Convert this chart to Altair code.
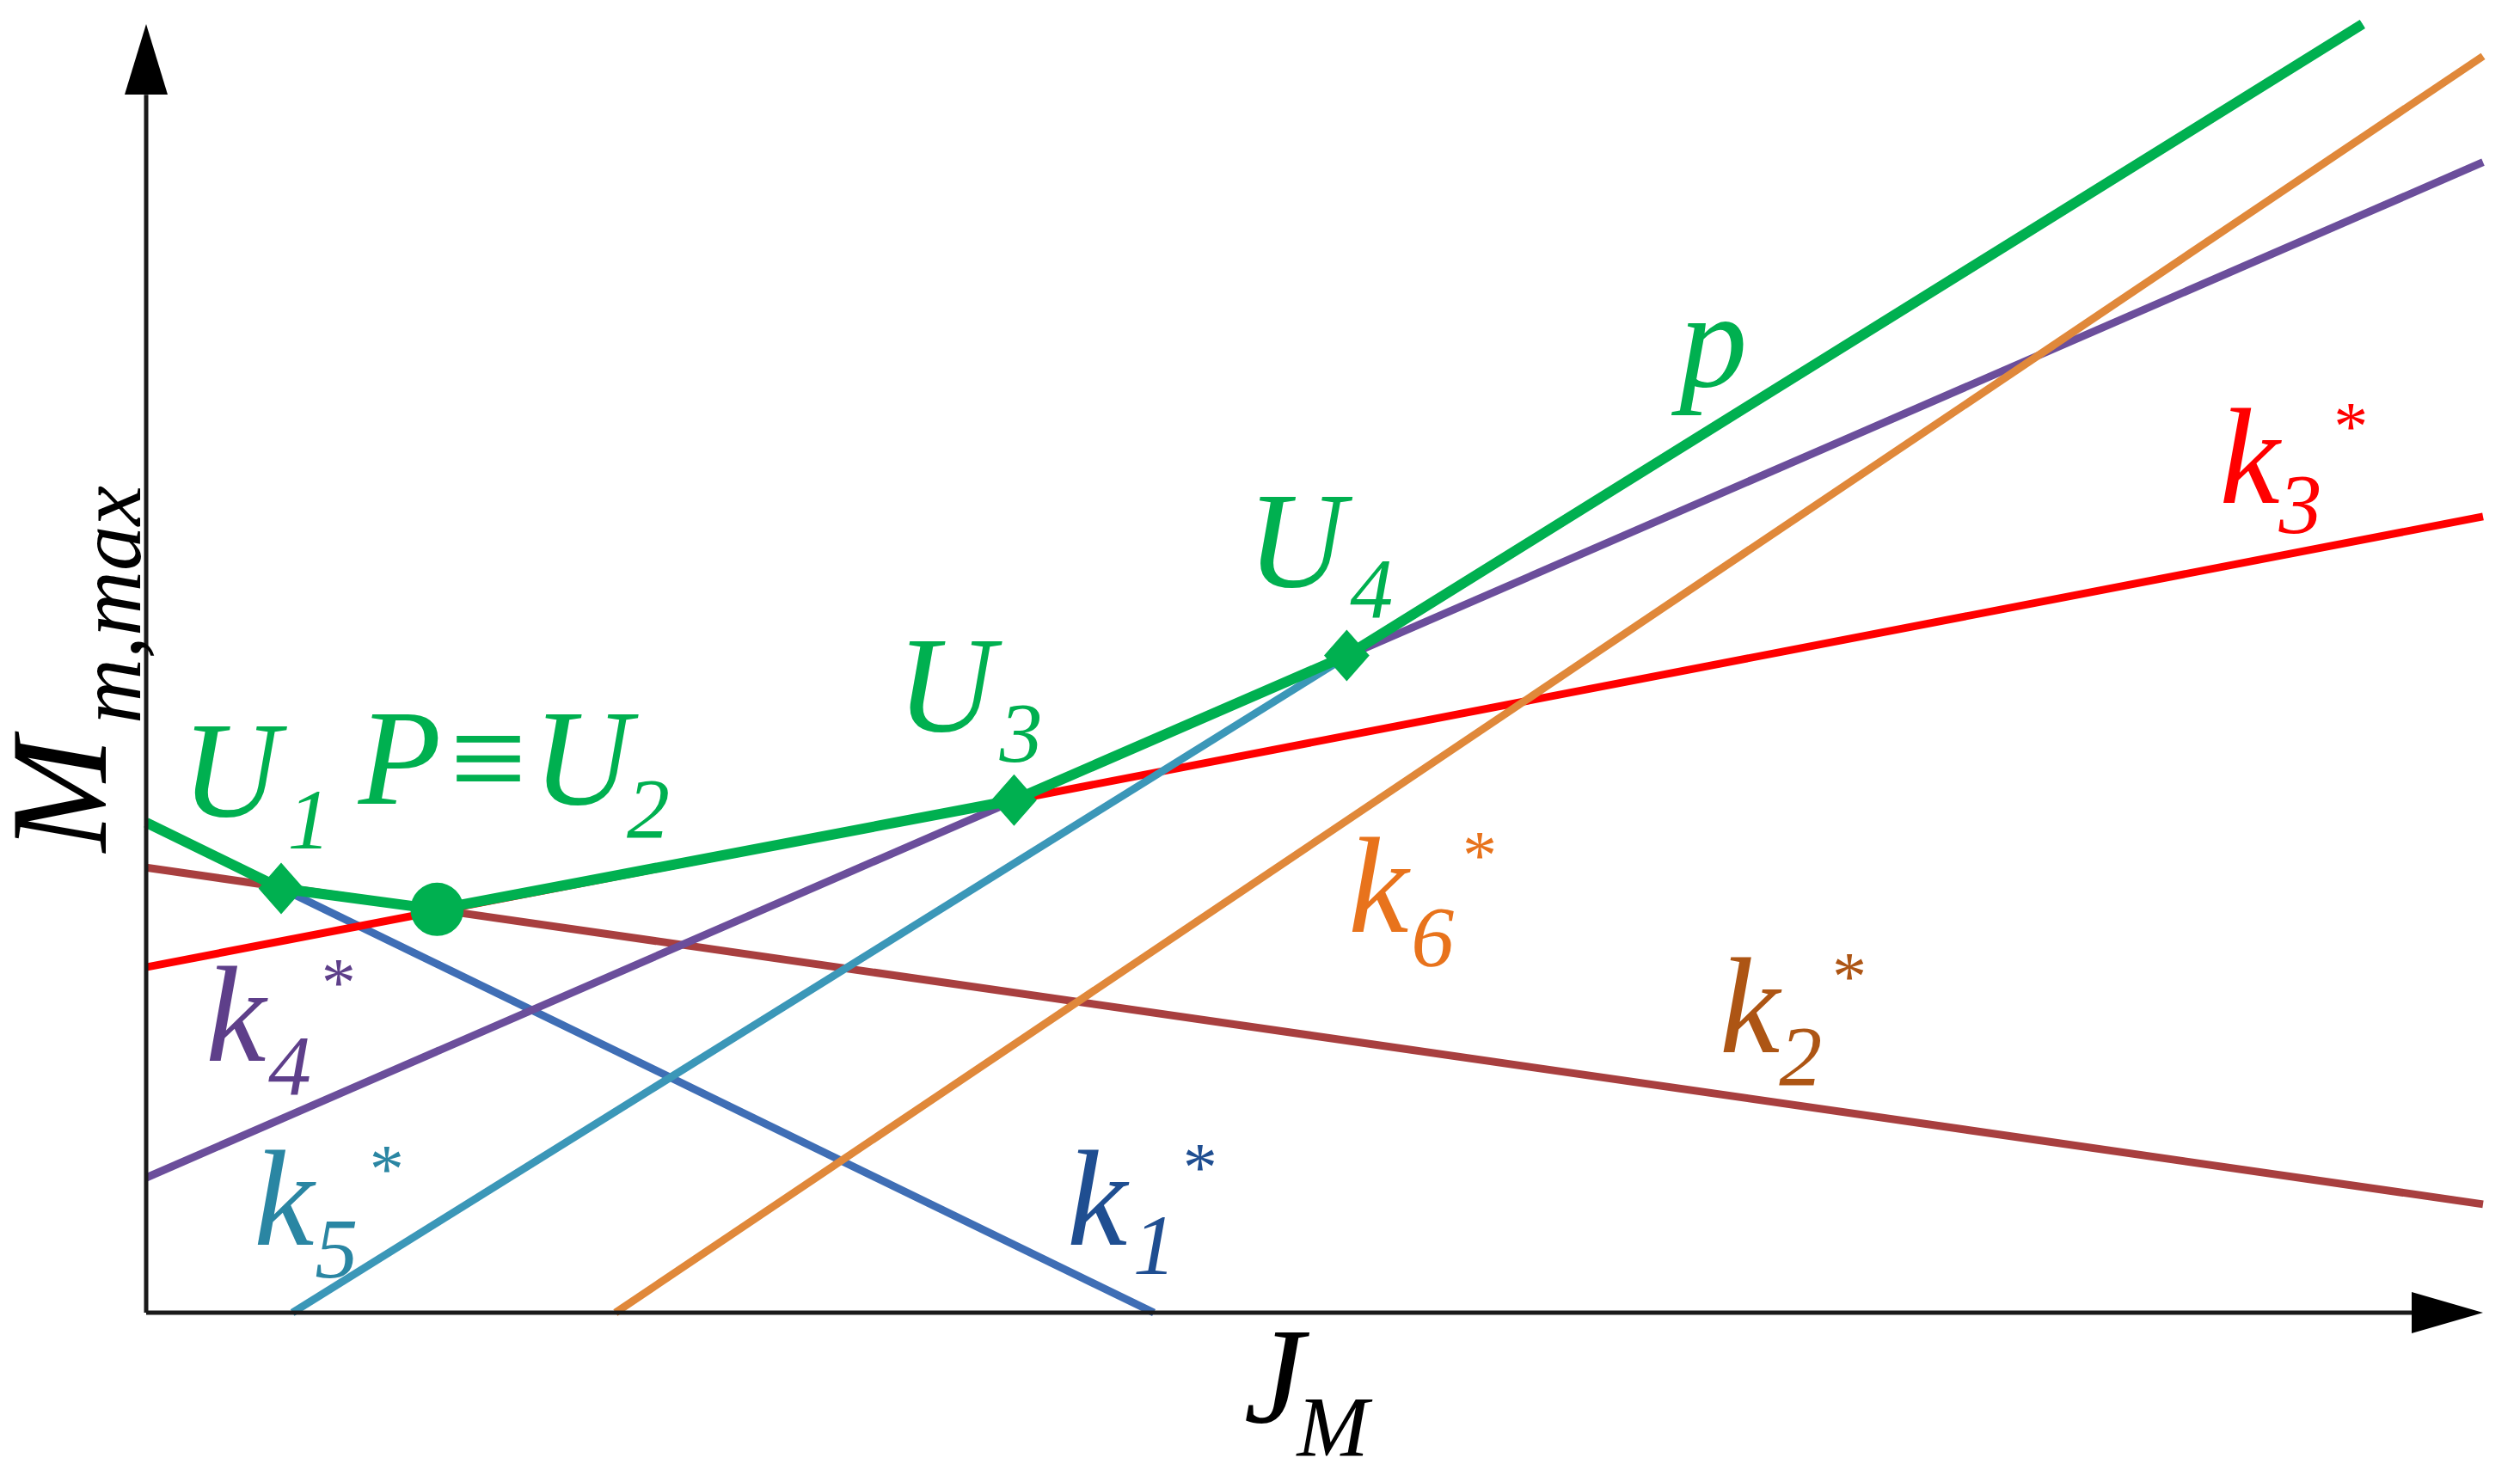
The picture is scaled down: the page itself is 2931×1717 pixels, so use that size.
import altair as alt
import pandas as pd

line_names = ["k1", "k2", "k3", "k4", "k5", "k6"]
line_x0 = [0.0, 0.0, 0.0, 0.0, 9.1, 29.2]
line_y0 = [30.5, 27.7, 21.5, 8.4, 0.0, 0.0]
line_x1 = [62.7, 145.4, 145.4, 145.4, 137.9, 145.4]
line_y1 = [0.0, 6.75, 49.55, 71.6, 80.2, 78.2]

# envelope p
p_x = [0.0, 8.4, 18.1, 54.0, 74.7, 137.9]
p_y = [30.5, 26.4, 25.1, 31.9, 40.9, 80.2]

# special points
pt_names = ["U1", "P", "U3", "U4"]
pt_x = [8.4, 18.1, 54.0, 74.7]
pt_y = [26.4, 25.1, 31.9, 40.9]
pt_kind = ["diamond", "circle", "diamond", "diamond"]

# axes extent
x_max = 145.4
y_max = 80.2
x_arrow_base = 141.0
y_arrow_base = 75.8

# labels: group, role, text, x, y
lab_group = ["U1", "U1", "P", "P", "U3", "U3", "U4", "U4", "p",
             "k3", "k3", "k3", "k6", "k6", "k6", "k2", "k2", "k2",
             "k1", "k1", "k1", "k4", "k4", "k4", "k5", "k5", "k5",
             "J", "J", "M", "M"]
lab_role = ["main", "sub", "main", "sub", "main", "sub", "main", "sub", "main",
            "main", "sub", "sup", "main", "sub", "sup", "main", "sub", "sup",
            "main", "sub", "sup", "main", "sub", "sup", "main", "sub", "sup",
            "main", "sub", "rmain", "rsub"]
lab_text = ["U", "1", "P\u2261U", "2", "U", "3", "U", "4", "p",
            "k", "3", "*", "k", "6", "*", "k", "2", "*",
            "k", "1", "*", "k", "4", "*", "k", "5", "*",
            "J", "M", "M", "m,max"]
lab_x = [2.2, 8.8, 13.2, 29.9, 46.7, 53.1, 68.5, 74.9, 95.4,
         129.0, 132.7, 135.9, 74.8, 78.7, 81.7, 97.9, 101.6, 104.7,
         57.3, 61.4, 64.3, 3.7, 7.6, 10.7, 6.7, 10.5, 13.7,
         68.3, 71.6, -2.52, -0.38]
lab_y = [30.9, 28.9, 31.7, 29.6, 36.2, 34.3, 45.2, 43.3, 57.7,
         50.4, 48.5, 53.7, 23.7, 21.6, 27.0, 16.2, 14.2, 19.5,
         4.2, 2.4, 7.6, 15.7, 13.6, 19.1, 4.2, 2.2, 7.5,
         -6.8, -8.9, 28.68, 36.65]

# ---------------- styles ----------------
line_colors = {"k1": "#3F6EB5", "k2": "#A83F3F", "k3": "#FF0000",
               "k4": "#6B4E9B", "k5": "#3B97B8", "k6": "#E0883A"}
text_colors = {"U1": "#00B050", "P": "#00B050", "U3": "#00B050", "U4": "#00B050",
               "p": "#00B050", "k1": "#1F4E91", "k2": "#AD5514", "k3": "#FF0000",
               "k4": "#5E3F8A", "k5": "#2A86A3", "k6": "#E8731C",
               "J": "#000000", "M": "#000000"}
GREEN = "#00B050"
AXIS = "#1a1a1a"
FONT = "Liberation Serif"
PX_PER_UNIT = 18.693

# ---------------- tables ----------------
rows = []
for n, a, b, c, d in zip(line_names, line_x0, line_y0, line_x1, line_y1):
    rows.append({"line": n, "x": a, "y": b, "o": 0})
    rows.append({"line": n, "x": c, "y": d, "o": 1})
lines_df = pd.DataFrame(rows)
p_df = pd.DataFrame({"x": p_x, "y": p_y, "o": list(range(len(p_x)))})
pts_df = pd.DataFrame({"name": pt_names, "x": pt_x, "y": pt_y, "kind": pt_kind})
lab_df = pd.DataFrame({"group": lab_group, "role": lab_role, "text": lab_text,
                       "x": lab_x, "y": lab_y})
axes_df = pd.DataFrame({"axis": ["x", "y"], "x": [0.0, 0.0], "y": [0.0, 0.0],
                        "x2": [x_arrow_base, 0.0], "y2": [0.0, y_arrow_base]})
arrow_up_df = pd.DataFrame({"x": [0.0], "y": [y_max]})
arrow_right_df = pd.DataFrame({"x": [x_max], "y": [0.0]})

xs = alt.Scale(domain=[0, x_max], nice=False, zero=False)
ys = alt.Scale(domain=[0, y_max], nice=False, zero=False)
X = alt.X("x:Q", scale=xs, axis=None)
Y = alt.Y("y:Q", scale=ys, axis=None)

lc = alt.Color("line:N", scale=alt.Scale(domain=list(line_colors.keys()),
                                         range=list(line_colors.values())), legend=None)
tc = alt.Color("group:N", scale=alt.Scale(domain=list(text_colors.keys()),
                                          range=list(text_colors.values())), legend=None)

k_lines = alt.Chart(lines_df).mark_line(strokeWidth=9, strokeCap="butt").encode(
    x=X, y=Y, color=lc, detail="line:N", order="o:Q")

p_line = alt.Chart(p_df).mark_line(strokeWidth=12, color=GREEN, strokeJoin="round").encode(
    x=X, y=Y, order="o:Q")

diamonds = alt.Chart(pts_df).transform_filter(alt.datum.kind == "diamond").mark_point(
    shape="M0,-1L0.88,0L0,1L-0.88,0Z", filled=True, opacity=1, color=GREEN,
    size=60 * 60).encode(x=X, y=Y)
circles = alt.Chart(pts_df).transform_filter(alt.datum.kind == "circle").mark_point(
    shape="circle", filled=True, opacity=1, color=GREEN, size=62 * 62).encode(x=X, y=Y)

axes = alt.Chart(axes_df).mark_rule(strokeWidth=5, color=AXIS).encode(
    x=X, y=Y, x2="x2:Q", y2="y2:Q")
arrow_up = alt.Chart(arrow_up_df).mark_point(
    shape="M0,0L0.305,1L-0.305,1Z", filled=True, opacity=1, color="#000000",
    size=164 * 164).encode(x=X, y=Y)
arrow_right = alt.Chart(arrow_right_df).mark_point(
    shape="M0,0L-1,-0.29L-1,0.29Z", filled=True, opacity=1, color="#000000",
    size=166 * 166).encode(x=X, y=Y)


def text_layer(role, size, angle=None):
    kw = dict(font=FONT, fontStyle="italic", fontSize=size, align="left",
              baseline="alphabetic")
    if angle is not None:
        kw["angle"] = angle
    return alt.Chart(lab_df).transform_filter(alt.datum.role == role).mark_text(**kw).encode(
        x=X, y=Y, text="text:N", color=tc)


texts = [text_layer("main", 158), text_layer("sub", 100), text_layer("sup", 80),
         text_layer("rmain", 160, 270), text_layer("rsub", 105, 270)]

chart = alt.layer(k_lines, p_line, axes, arrow_up, arrow_right, diamonds, circles, *texts)
chart = chart.resolve_scale(color="independent").properties(
    width=round(x_max * PX_PER_UNIT), height=round(y_max * PX_PER_UNIT),
    padding={"left": 162, "top": 20, "right": 30, "bottom": 175},
    autosize=alt.AutoSizeParams(type="none"),
    background="white",
).configure_view(strokeWidth=0, stroke="transparent")

chart.save("out.html", embed_options={"renderer": "svg", "actions": False})
